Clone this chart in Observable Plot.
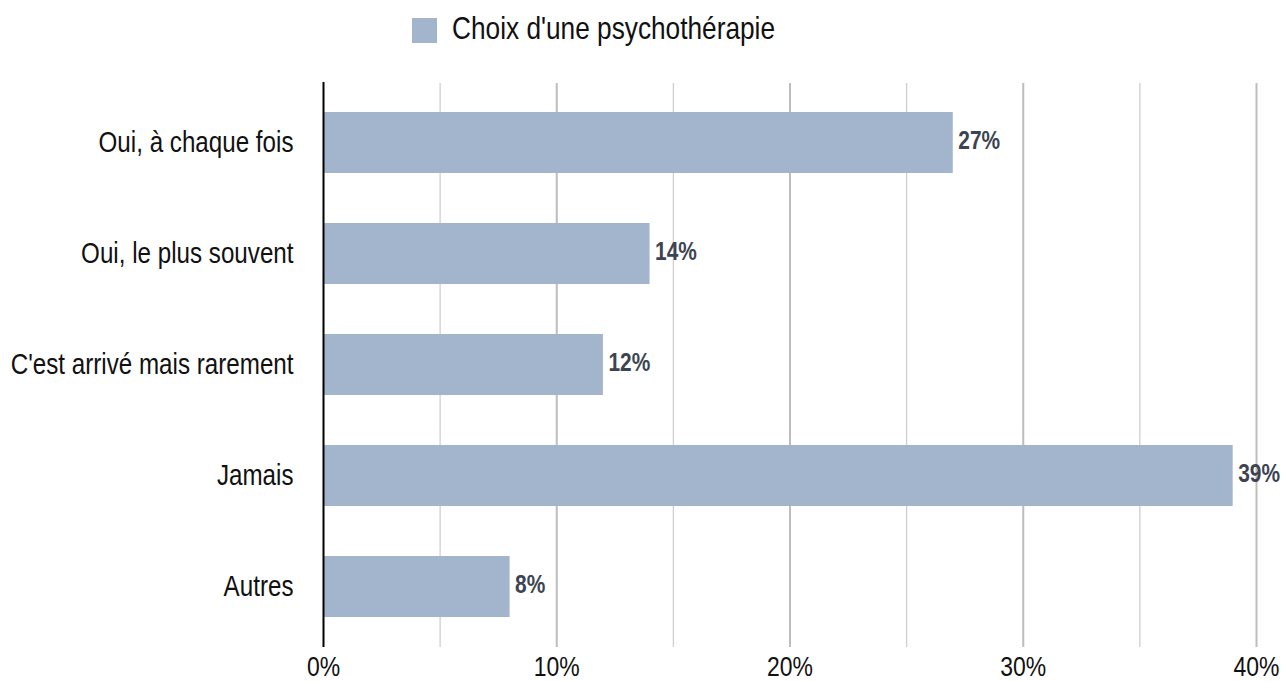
<!DOCTYPE html>
<html>
<head>
<meta charset="utf-8">
<script src="https://cdn.jsdelivr.net/npm/d3@7"></script>
<script src="https://cdn.jsdelivr.net/npm/@observablehq/plot@0.6"></script>
<style>
  html, body { margin: 0; padding: 0; background: #fff; }
  body { width: 1284px; height: 682px; overflow: hidden; font-family: "Liberation Sans", Arial, sans-serif; }
  #legend { position: relative; height: 60px; }
  #legend .sw { position: absolute; left: 412px; top: 18px; width: 25px; height: 25px; background: #a2b5cc; }
  #legend .lb { position: absolute; left: 452px; top: 9px; font-size: 32px; line-height: 38px; color: #111; white-space: nowrap; transform: scaleX(0.82); transform-origin: 0 50%; }
  svg { display: block; }
</style>
</head>
<body>
<div id="legend"><div class="sw"></div><div class="lb"></div></div>
<div id="chart"></div>
<script>
const seriesName = "Choix d'une psychothérapie";
const categories = ["Oui, à chaque fois", "Oui, le plus souvent", "C'est arrivé mais rarement", "Jamais", "Autres"];
const values = [27, 14, 12, 39, 8];
const xTicks = [0, 10, 20, 30, 40];
const minorTicks = [5, 15, 25, 35];

document.querySelector("#legend .lb").textContent = seriesName;

const data = categories.map((c, i) => ({category: c, value: values[i]}));
const barColor = "#a2b5cc";
const font = "'Liberation Sans', Arial, sans-serif";
const narrow = 0.82;

const chart = Plot.plot({
  width: 1284,
  height: 622,
  marginLeft: 323,
  marginRight: 28,
  marginTop: 23,
  marginBottom: 35,
  style: {fontFamily: font, background: "#fff", color: "#111"},
  x: {domain: [0, 40], ticks: xTicks, tickFormat: d => d + "%"},
  y: {domain: categories, paddingInner: 0.45, paddingOuter: 0.256},
  marks: [
    Plot.ruleX(minorTicks, {stroke: "#cfcfcf", strokeWidth: 1.3}),
    Plot.ruleX(xTicks.filter(d => d > 0), {stroke: "#bdbdbd", strokeWidth: 2}),
    Plot.barX(data, {x: "value", y: "category", fill: barColor}),
    Plot.text(data, {x: "value", y: "category", text: d => d.value + "%", textAnchor: "start", dx: 5, dy: -2,
      fontWeight: "bold", fontSize: 25.5, fill: "#3d4451"}),
    Plot.ruleX([0], {stroke: "#000", strokeWidth: 2, insetTop: -1}),
    Plot.axisX({ticks: xTicks, tickFormat: d => d + "%", tickSize: 0, tickPadding: 9, fontSize: 28, label: null}),
    Plot.axisY({tickSize: 0, tickPadding: 30, fontSize: 29.5, label: null})
  ]
});

// emulate a narrow face (Arial Narrow metrics) by horizontal compression of each label about its anchor
d3.select(chart).selectAll("text").each(function() {
  const t = this.getAttribute("transform");
  if (t) {
    this.setAttribute("transform", t + ` scale(${narrow},1)`);
  } else {
    const x = +(this.getAttribute("x") || 0), y = +(this.getAttribute("y") || 0);
    this.removeAttribute("x"); this.removeAttribute("y");
    this.setAttribute("transform", `translate(${x},${y}) scale(${narrow},1)`);
  }
});
document.getElementById("chart").appendChild(chart);
</script>
</body>
</html>
